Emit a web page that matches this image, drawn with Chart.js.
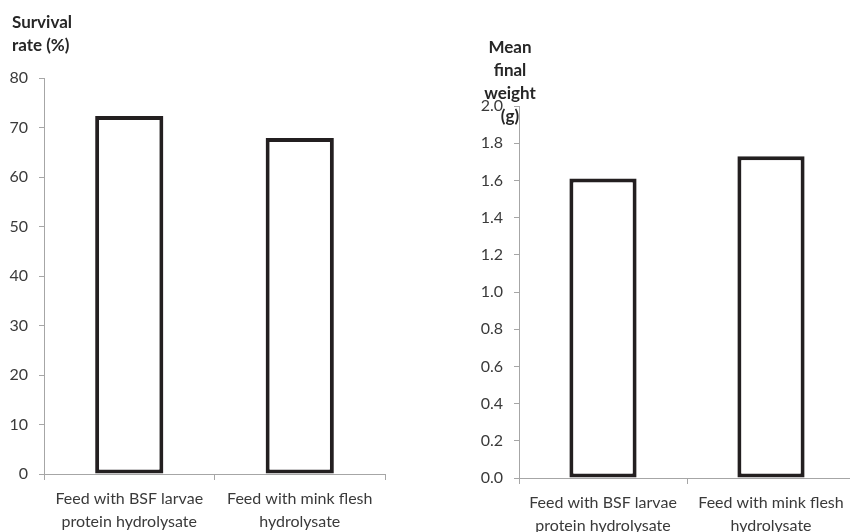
<!DOCTYPE html>
<html>
<head>
<meta charset="utf-8">
<script src="https://cdn.jsdelivr.net/npm/chart.js@4/dist/chart.umd.min.js"></script>
<style>
  html, body { margin: 0; padding: 0; background: #fff; overflow: hidden; }
  #wrap { position: relative; width: 850px; height: 532px; overflow: hidden; }
  canvas { position: absolute; top: 0; }
  #survival { left: 0; }
  #weight { left: 425px; }
</style>
</head>
<body>
<div id="wrap">
  <canvas id="survival" width="425" height="532"></canvas>
  <canvas id="weight" width="440" height="532"></canvas>
</div>
<script>
// data
const categories = [
    ['Feed with BSF larvae', 'protein hydrolysate'],
    ['Feed with mink flesh', 'hydrolysate']
];
const survivalRate = [72.3, 67.9];
const meanFinalWeight = [1.61, 1.73];

const survivalTitle = ['Survival', 'rate (%)'];
const weightTitle = ['Mean', 'final', 'weight', '(g)'];

const AXIS_GREY = '#a6a6a6';
const TEXT = '#3a3a3a';
const FONT = 'Lato, "Open Sans", sans-serif';

// draws the stacked bold axis title at a fixed spot
const axisTitlePlugin = {
    id: 'axisTitle',
    afterDraw(chart, args, opts) {
        if (!opts.lines) return;
        const ctx = chart.ctx;
        ctx.save();
        ctx.font = 'bold 17px ' + FONT;
        ctx.fillStyle = '#262626';
        ctx.textAlign = opts.align || 'left';
        ctx.textBaseline = 'middle';
        opts.lines.forEach((line, i) => {
            ctx.fillText(line, opts.x, opts.y + i * opts.step);
        });
        ctx.restore();
    }
};

function makeChart(id, values, cfg) {
    return new Chart(document.getElementById(id).getContext('2d'), {
        type: 'bar',
        data: {
            labels: categories,
            datasets: [{
                data: values,
                backgroundColor: '#ffffff',
                borderColor: '#231f20',
                borderWidth: 4,
                borderSkipped: false,
                barPercentage: 0.4,
                categoryPercentage: 1.0
            }]
        },
        options: {
            responsive: false,
            animation: false,
            devicePixelRatio: 1,
            layout: { padding: { top: cfg.top, right: cfg.right, left: 0, bottom: 0 } },
            scales: {
                x: {
                    afterFit: s => { s.height = cfg.xHeight; },
                    border: { color: AXIS_GREY, width: 1 },
                    grid: { drawOnChartArea: false, drawTicks: true, tickLength: 6, color: AXIS_GREY, offset: true },
                    ticks: { color: TEXT, padding: 7, maxRotation: 0, autoSkip: false,
                             font: { family: FONT, size: 16, lineHeight: 1.45 } }
                },
                y: {
                    min: 0, max: cfg.max,
                    afterFit: s => { s.width = cfg.yWidth; },
                    border: { color: AXIS_GREY, width: 1 },
                    grid: { drawOnChartArea: false, drawTicks: true, tickLength: 5, color: AXIS_GREY },
                    ticks: { stepSize: cfg.step, color: TEXT, padding: 11,
                             font: { family: FONT, size: 16 },
                             callback: cfg.fmt }
                }
            },
            plugins: {
                legend: { display: false },
                tooltip: { enabled: false },
                axisTitle: cfg.title
            }
        },
        plugins: [axisTitlePlugin]
    });
}

makeChart('survival', survivalRate, {
    top: 78, right: 40, xHeight: 58, yWidth: 44,
    max: 80, step: 10, fmt: v => v,
    title: { lines: survivalTitle, x: 12, y: 23, step: 23, align: 'left' }
});

makeChart('weight', meanFinalWeight, {
    top: 106, right: 10, xHeight: 54, yWidth: 94,
    max: 2.0, step: 0.2, fmt: v => v.toFixed(1),
    title: { lines: weightTitle, x: 85, y: 48, step: 23, align: 'center' }
});
</script>
</body>
</html>
